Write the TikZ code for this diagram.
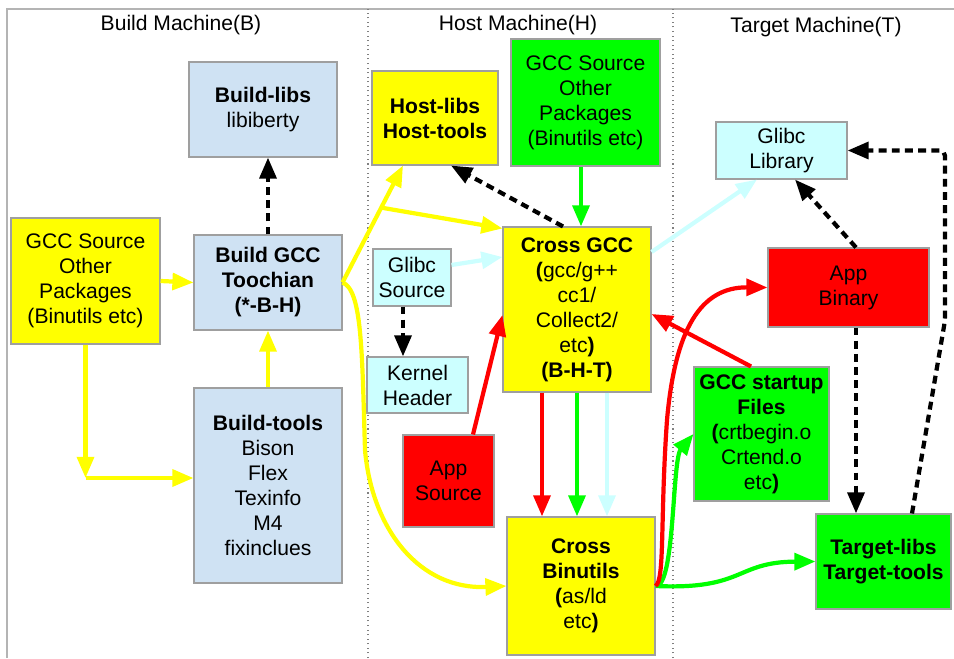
\documentclass[tikz,border=0pt]{standalone}
\usepackage{fontspec}
\setmainfont{Liberation Sans}
\usetikzlibrary{arrows.meta}

\definecolor{bluebox}{HTML}{CFE2F3}
\definecolor{cyanbox}{HTML}{CCFFFF}
\definecolor{ylw}{HTML}{FFFF00}
\definecolor{grn}{HTML}{00FF00}
\definecolor{rd}{HTML}{FF0000}
\definecolor{framegray}{HTML}{B4B4B4}

\begin{document}
\begin{tikzpicture}[thick, font=\fontsize{12}{14.2}\selectfont,
  box/.style={shape=rectangle, draw=gray!75, line width=0.6pt, align=center, inner sep=2pt},
  flow/.style={line width=2.4pt, -{Triangle[length=12pt,width=9.5pt]}},
  dep/.style={flow, black, dash pattern=on 4.5pt off 3pt}]
\useasboundingbox (0,0) rectangle (19.08,13.16);
%%%%%%%%%%%%%%%%%%%%%%%%%%%%%%%%%%%%%%%%%%% HELP LINES
%\draw[help lines] (0,0) grid +(19,13);

%%%%%%%%%%%%%%%%%%%%%%%%%%%%%%%%%%%%%%%%%%% frame and machines
\draw[framegray, line width=0.6pt] (0.14,0) -- (0.14,12.98) -- (19.08,12.98);
\draw[gray, dotted, line width=0.6pt] (7.36,0) -- (7.36,12.98);
\draw[gray, dotted, line width=0.6pt] (13.46,0) -- (13.46,12.98);
\node[shape=rectangle, draw=none](hdrB) at (3.62,12.66) {Build Machine(B)};
\node[shape=rectangle, draw=none](hdrH) at (10.36,12.66) {Host Machine(H)};
\node[shape=rectangle, draw=none](hdrT) at (16.32,12.62) {Target Machine(T)};

%%%%%%%%%%%%%%%%%%%%%%%%%%%%%%%%%%%%%%%%%%% build machine
\node[box, fill=ylw, minimum width=2.98cm, minimum height=2.52cm](srcB) at (1.71,7.54) {GCC Source\\Other\\Packages\\(Binutils etc)};
\node[box, fill=bluebox, minimum width=2.96cm, minimum height=1.9cm](buildlibs) at (5.26,10.97) {\textbf{Build-libs}\\libiberty};
\node[box, fill=bluebox, minimum width=2.96cm, minimum height=1.9cm](buildgcc) at (5.36,7.51) {\textbf{Build GCC}\\\textbf{Toochian}\\\textbf{(*-B-H)}};
\node[box, fill=bluebox, minimum width=2.96cm, minimum height=3.9cm](buildtools) at (5.36,3.45) {\textbf{Build-tools}\\Bison\\Flex\\Texinfo\\M4\\fixinclues};

%%%%%%%%%%%%%%%%%%%%%%%%%%%%%%%%%%%%%%%%%%% host machine
\node[box, fill=ylw, minimum width=2.52cm, minimum height=1.88cm](hostlibs) at (8.70,10.80) {\textbf{Host-libs}\\\textbf{Host-tools}};
\node[box, fill=grn, minimum width=2.98cm, minimum height=2.54cm](srcH) at (11.71,11.11) {GCC Source\\Other\\Packages\\(Binutils etc)};
\node[box, fill=cyanbox, minimum width=1.56cm, minimum height=1.14cm](glibcsrc) at (8.24,7.61) {Glibc\\Source};
\node[box, fill=cyanbox, minimum width=2.02cm, minimum height=1.12cm](kernel) at (8.35,5.46) {Kernel\\Header};
\node[box, fill=ylw, minimum width=2.96cm, minimum height=3.3cm](crossgcc) at (11.54,6.97) {\textbf{Cross GCC}\\\textbf{(}gcc/g++\\cc1/\\Collect2/\\etc\textbf{)}\\\textbf{(B-H-T)}};
\node[box, fill=rd, minimum width=1.82cm, minimum height=1.84cm](appsrc) at (8.97,3.54) {App\\Source};
\node[box, fill=ylw, minimum width=2.96cm, minimum height=2.76cm](crossbin) at (11.62,1.44) {\textbf{Cross}\\\textbf{Binutils}\\\textbf{(}as/ld\\etc\textbf{)}};

%%%%%%%%%%%%%%%%%%%%%%%%%%%%%%%%%%%%%%%%%%% target machine
\node[box, fill=cyanbox, minimum width=2.62cm, minimum height=1.14cm](glibclib) at (15.63,10.15) {Glibc\\Library};
\node[box, fill=rd, minimum width=3.22cm, minimum height=1.58cm](appbin) at (16.97,7.41) {App\\Binary};
\node[box, fill=grn, minimum width=2.70cm, minimum height=2.68cm](startup) at (15.23,4.48) {\textbf{GCC startup}\\\textbf{Files}\\\textbf{(}crtbegin.o\\Crtend.o\\etc\textbf{)}};
\node[box, fill=grn, minimum width=2.70cm, minimum height=1.9cm](targetlibs) at (17.67,1.93) {\textbf{Target-libs}\\\textbf{Target-tools}};

%%%%% yellow flows
\draw[flow, ylw] (srcB.east) -- (buildgcc.west);
\coordinate (bendB) at (1.71,3.60);
\draw[flow, ylw] (srcB.south) -- (bendB);
\draw[flow, ylw] (bendB) -- (bendB -| buildtools.west);
\draw[flow, ylw] (buildtools.north) -- (buildgcc.south);
\draw[flow, ylw] (buildgcc.east) -- coordinate[pos=0.64](ysplit) ([xshift=-0.64cm]hostlibs.south);
\draw[flow, ylw] (ysplit) -- ([yshift=-0.04cm]crossgcc.north west);
\draw[flow, ylw] (buildgcc.east) .. controls (7.24,7.36) and (7.24,6.16) .. (7.30,4.16)
  .. controls (7.44,2.56) and (8.40,1.36) .. (crossbin.west);

%%%%% black dashed flows
\draw[dep] (buildgcc.north) -- (buildgcc.north |- buildlibs.south);
\draw[dep] ([xshift=-0.28cm]crossgcc.north) -- ([xshift=0.32cm]hostlibs.south);
\draw[dep] ([xshift=-0.18cm]glibcsrc.south) -- ([xshift=-0.18cm]glibcsrc.south |- kernel.north);
\draw[dep] ([xshift=0.15cm]appbin.north) -- ([xshift=0.27cm]glibclib.south);
\draw[dep] ([xshift=0.15cm]appbin.south) -- ([xshift=0.15cm]appbin.south |- targetlibs.north);
\draw[dep, rounded corners=3pt] ([xshift=0.57cm]targetlibs.north) -- ++(0.66,3.86) |- (glibclib.east);

%%%%% green flows
\draw[flow, grn] ([xshift=-0.09cm]srcH.south) -- ([xshift=-0.09cm]srcH.south |- crossgcc.north);
\draw[flow, grn] (crossgcc.south) -- (crossgcc.south |- crossbin.north);
\draw[flow, grn] (crossbin.east) .. controls (13.5,1.4) and (13.44,3.96) .. (startup.west);
\draw[flow, grn] (crossbin.east) .. controls (14.9,1.36) and (14.7,1.92) .. (targetlibs.west);

%%%%% cyan flows
\draw[flow, cyanbox] ([yshift=0.25cm]glibcsrc.east) -- ([yshift=1.05cm]crossgcc.west);
\draw[flow, cyanbox] ([yshift=1.15cm]crossgcc.east) -- ([xshift=-0.49cm]glibclib.south);
\draw[flow, cyanbox] ([xshift=0.60cm]crossgcc.south) -- ([xshift=0.60cm]crossgcc.south |- crossbin.north);

%%%%% red flows
\draw[flow, rd] ([xshift=-0.70cm]crossgcc.south) -- ([xshift=-0.70cm]crossgcc.south |- crossbin.north);
\draw[flow, rd] ([xshift=0.49cm]appsrc.north) -- ([yshift=-0.11cm]crossgcc.west);
\draw[flow, rd] ([xshift=-0.21cm]startup.north) -- ([yshift=-0.09cm]crossgcc.east);
\draw[flow, rd] (crossbin.east) .. controls (13.3,1.56) and (13.2,2.76) .. (13.34,4.76)
  .. controls (13.5,6.56) and (14.0,7.42) .. (appbin.west);
\end{tikzpicture}
\end{document}
